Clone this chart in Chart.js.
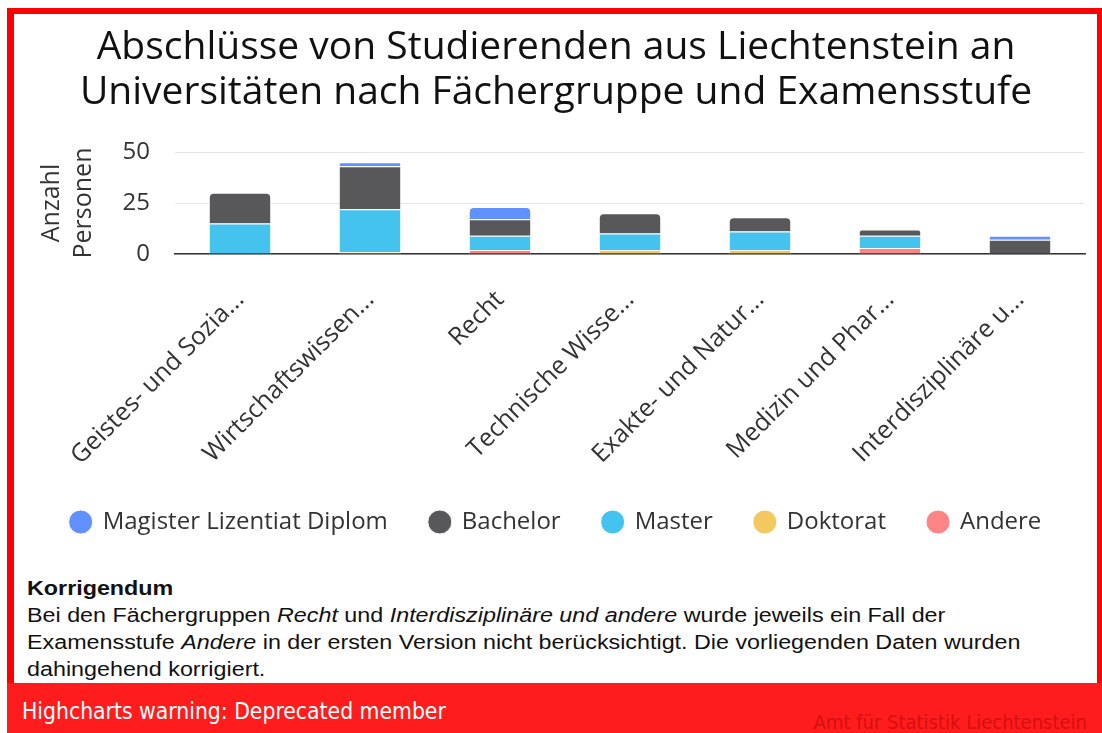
<!DOCTYPE html>
<html>
<head>
<meta charset="utf-8">
<script src="https://cdn.jsdelivr.net/npm/chart.js@4.4.1/dist/chart.umd.min.js"></script>
<style>
    body { margin: 0; background: #fff; width: 1102px; height: 733px; overflow: hidden; position: relative; }
    #frame { position: absolute; left: 7px; top: 8px; width: 1095px; height: 725px; background: #ff0000; }
    #inner { position: absolute; left: 14px; top: 14px; width: 1083px; height: 669px; background: #fff; }
    #chartBox { position: absolute; left: 14px; top: 14px; width: 1083px; height: 530px; }
    #note { position: absolute; left: 27px; top: 575px; white-space: nowrap; font-family: "Liberation Sans", Arial, sans-serif; font-size: 20px; line-height: 27px; color: #111; transform: scaleX(1.165); transform-origin: left top; }
    #warn { position: absolute; left: 7px; top: 683px; width: 1095px; height: 50px; background: #ff1c1c; }
    #warnText { position: absolute; left: 15px; top: 15px; font-family: "DejaVu Sans Condensed", "Liberation Sans Narrow", sans-serif; font-size: 22.7px; color: #fff; }
    #credit { position: absolute; right: 15px; top: 27px; white-space: nowrap; font-family: "DejaVu Sans Condensed", "Liberation Sans Narrow", sans-serif; font-size: 20px; color: #d41010; }
</style>
</head>
<body>
<div id="frame"></div>
<div id="inner"></div>
<div id="chartBox"><canvas id="examChart"></canvas></div>
<div id="note">
    <b>Korrigendum</b><br>
    Bei den Fächergruppen <i>Recht</i> und <i>Interdisziplinäre und andere</i> wurde jeweils ein Fall der<br>
    Examensstufe <i>Andere</i> in der ersten Version nicht berücksichtigt. Die vorliegenden Daten wurden<br>
    dahingehend korrigiert.
</div>
<div id="warn">
    <div id="warnText">Highcharts warning: Deprecated member</div>
    <div id="credit">Amt für Statistik Liechtenstein</div>
</div>
<script>
// Fächergruppen (full names and the shortened axis labels)
const faecher = ['Geistes- und Sozialwissenschaften', 'Wirtschaftswissenschaften', 'Recht',
    'Technische Wissenschaften', 'Exakte- und Naturwissenschaften', 'Medizin und Pharmazie',
    'Interdisziplinäre und andere'];
const faecherKurz = ['Geistes- und Sozia...', 'Wirtschaftswissen...', 'Recht', 'Technische Wisse...',
    'Exakte- und Natur...', 'Medizin und Phar...', 'Interdisziplinäre u...'];

// Anzahl Personen per Examensstufe
const magister = [0, 2, 6, 0, 0, 0, 2];
const bachelor = [15, 21, 8, 10, 7, 3, 7];
const master = [15, 21, 7, 8, 9, 6, 0];
const doktorat = [0, 1, 0, 2, 2, 0, 0];
const andere = [0, 0, 2, 0, 0, 3, 0];

const yTicks = [0, 25, 50];

const fontMain = '"Open Sans", Lato, sans-serif';

function makeSet(label, data, color) {
    return {
        label: label,
        data: data,
        backgroundColor: color,
        borderColor: '#ffffff',
        borderWidth: 1,
        borderRadius: 5,
        borderSkipped: 'start',
        categoryPercentage: 0.8,
        barPercentage: 0.6,
    };
}

// bottom of stack first, legend reversed so Magister comes first
const datasets = [
    makeSet('Andere', andere, '#fe8585'),
    makeSet('Doktorat', doktorat, '#f3c95f'),
    makeSet('Master', master, '#45c3ef'),
    makeSet('Bachelor', bachelor, '#58585b'),
    makeSet('Magister Lizentiat Diplom', magister, '#6190ff'),
];

new Chart(document.getElementById('examChart'), {
    type: 'bar',
    data: { labels: faecher, datasets: datasets },
    options: {
        responsive: true,
        maintainAspectRatio: false,
        animation: false,
        layout: { padding: { left: 13, right: 12, top: 11, bottom: 0 } },
        plugins: {
            title: {
                display: true,
                text: ['Abschlüsse von Studierenden aus Liechtenstein an', 'Universitäten nach Fächergruppe und Examensstufe'],
                color: '#111',
                font: { family: fontMain, size: 39, weight: 'normal', lineHeight: 1.154 },
                padding: { top: 0, bottom: 37 },
            },
            legend: {
                position: 'bottom',
                reverse: true,
                labels: {
                    usePointStyle: true,
                    pointStyle: 'circle',
                    boxWidth: 20,
                    boxHeight: 17,
                    padding: 42,
                    color: '#333',
                    font: { family: fontMain, size: 24 },
                },
            },
            tooltip: { mode: 'index' },
        },
        scales: {
            x: {
                stacked: true,
                afterFit: (axis) => { axis.height = 214; },
                grid: { display: false, drawTicks: false },
                border: { color: '#333', width: 1.5 },
                ticks: {
                    minRotation: 45,
                    maxRotation: 45,
                    padding: 31,
                    color: '#333',
                    font: { family: fontMain, size: 25 },
                    callback: (value, index) => faecherKurz[index],
                },
            },
            y: {
                stacked: true,
                min: 0,
                max: 50,
                afterBuildTicks: (axis) => { axis.ticks = yTicks.map(v => ({ value: v })); },
                afterFit: (axis) => { axis.width = 148; },
                grid: { color: '#e6e6e6', drawTicks: false },
                border: { display: false },
                ticks: {
                    padding: 25,
                    color: '#333',
                    font: { family: fontMain, size: 24 },
                },
                title: {
                    display: true,
                    text: ['Anzahl', 'Personen'],
                    color: '#333',
                    font: { family: fontMain, size: 25, lineHeight: 1.28 },
                    padding: { top: 9, bottom: 0 },
                },
            },
        },
    },
});
</script>
</body>
</html>
